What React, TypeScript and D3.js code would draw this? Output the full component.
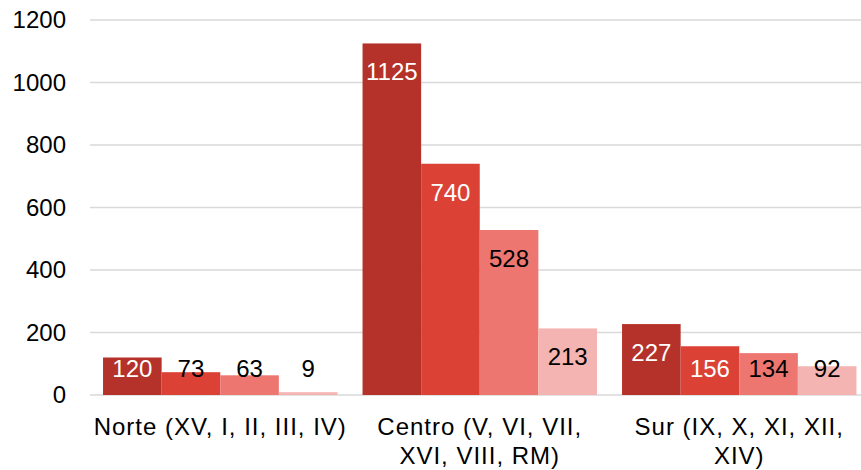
import React from "react";
import * as d3 from "d3";

const categories = ["Norte (XV, I, II, III, IV)", "Centro (V, VI, VII, XVI, VIII, RM)", "Sur (IX, X, XI, XII, XIV)"];
const categoryLines = [["Norte (XV, I, II, III, IV)"], ["Centro (V, VI, VII,", "XVI, VIII, RM)"], ["Sur (IX, X, XI, XII,", "XIV)"]];
const seriesNames = ["s1", "s2", "s3", "s4"];
const s1 = [120, 1125, 227];
const s2 = [73, 740, 156];
const s3 = [63, 528, 134];
const s4 = [9, 213, 92];
const seriesValues = [s1, s2, s3, s4];
const colors = ["#B5322A", "#DC4136", "#EE7670", "#F4B4B1"];
const yTicks = [0, 200, 400, 600, 800, 1000, 1200];

export default function App() {
  const W = 861, H = 470;
  const y = d3.scaleLinear().domain([0, 1200]).range([395, 20]);
  const x0 = d3.scaleBand<string>().domain(categories).range([90.5, 869]);
  const x1 = d3.scaleBand<string>().domain(seriesNames).range([0, x0.bandwidth()]).paddingInner(0).paddingOuter(0.214);
  const font = "'Liberation Sans', Arial, sans-serif";
  return (
    <svg width={W} height={H} style={{ position: "absolute", left: 0, top: 0 }} fontFamily={font}>
      <rect width={W} height={H} fill="#fff" />
      {yTicks.map((t) => (
        <g key={t}>
          <line x1={90} x2={861} y1={y(t)} y2={y(t)} stroke="#d9d9d9" strokeWidth={1.5} />
          <text x={66} y={y(t)} dy="0.35em" textAnchor="end" fontSize={24} fill="#000">{t}</text>
        </g>
      ))}
      {categories.map((c, ci) => (
        <g key={c}>
          {seriesValues.map((vals, si) => {
            const v = vals[ci];
            const bx = (x0(c) as number) + (x1(seriesNames[si]) as number);
            const bw = x1.bandwidth();
            const top = y(v);
            const h = y(0) - top;
            const ly = Math.min(top + 28.5, 369);
            const white = si < 2 && h > 30;
            return (
              <g key={si}>
                <rect x={bx} y={top} width={bw} height={h} fill={colors[si]} />
                <text x={bx + bw / 2} y={ly} dy="0.35em" textAnchor="middle" fontSize={24} fill={white ? "#fff" : "#000"}>{v}</text>
              </g>
            );
          })}
          {categoryLines[ci].map((ln, li) => (
            <text key={li} x={(x0(c) as number) + x0.bandwidth() / 2} y={427 + li * 29} dy="0.35em" textAnchor="middle" fontSize={24} letterSpacing={1} fill="#000">{ln}</text>
          ))}
        </g>
      ))}
    </svg>
  );
}
